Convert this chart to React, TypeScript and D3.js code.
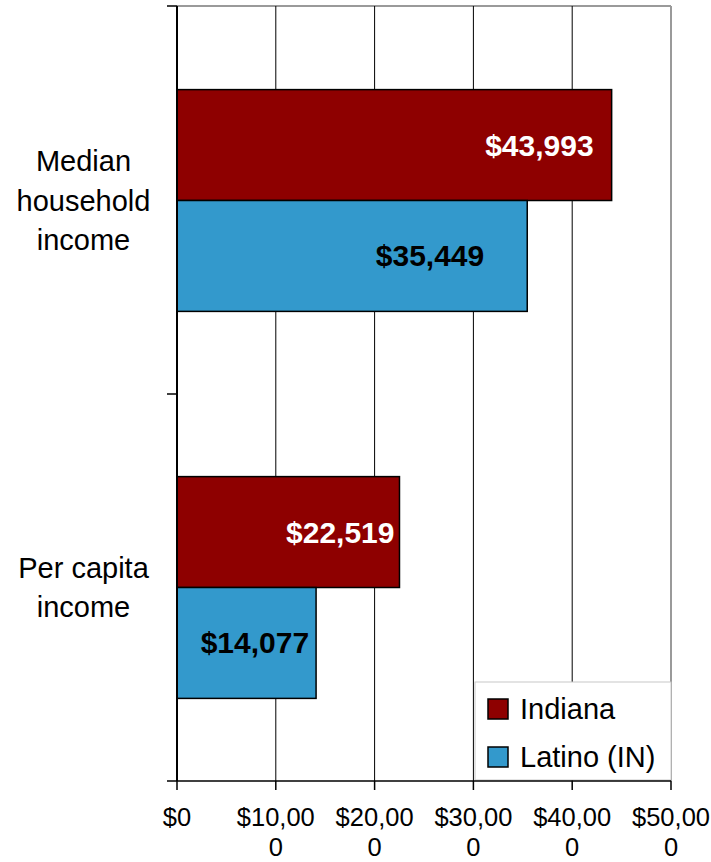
import React from "react";
import * as d3 from "d3";

const categories = ["Median household income", "Per capita income"];
const categoryLines = [["Median", "household", "income"], ["Per capita", "income"]];
const seriesNames = ["Indiana", "Latino (IN)"];
const indianaValues = [43993, 22519];
const latinoValues = [35449, 14077];
const xTicks = [0, 10000, 20000, 30000, 40000, 50000];
const xTickLines = [["$0"], ["$10,00", "0"], ["$20,00", "0"], ["$30,00", "0"], ["$40,00", "0"], ["$50,00", "0"]];

const colors = ["#8E0000", "#3399CC"];
const labelColors = ["#FFFFFF", "#000000"];
// inset (px) of each data label from its bar end: [category][series]
const labelInset = [[18, 43], [5, 7]];

const W = 711, H = 862;
const left = 177, right = 671, top = 6, bottom = 781;
const FONT = "'Liberation Sans', Arial, Helvetica, sans-serif";

export default function App() {
  const x = d3.scaleLinear().domain([0, 50000]).range([left, right]);
  const y = d3.scaleBand<string>().domain(categories).range([top + 1, bottom]).paddingInner(0).paddingOuter(0);
  const inner = d3.scaleBand<string>().domain(seriesNames).range([0, y.bandwidth()]).paddingOuter(0.745).paddingInner(0);
  const series = [indianaValues, latinoValues];
  const fmt = (v: number) => "$" + d3.format(",")(v);

  return (
    <svg width={W} height={H} style={{ position: "absolute", left: 0, top: 0, background: "#fff" }} fontFamily={FONT}>
      <rect x={0} y={0} width={W} height={H} fill="#fff" />
      {/* plot border top/right */}
      <line x1={left} x2={right} y1={top} y2={top} stroke="#9a9a9a" strokeWidth={2} />
      <line x1={right} x2={right} y1={top} y2={bottom} stroke="#9a9a9a" strokeWidth={2} />
      {/* gridlines */}
      {xTicks.slice(1, -1).map((t) => (
        <line key={t} x1={x(t)} x2={x(t)} y1={top} y2={bottom} stroke="#000" strokeWidth={1} />
      ))}
      {/* bars */}
      {categories.map((c, ci) =>
        seriesNames.map((s, si) => {
          const v = series[si][ci];
          const by = (y(c) as number) + (inner(s) as number);
          const bh = inner.bandwidth();
          return (
            <g key={c + s}>
              <rect x={x(0)} y={by} width={x(v) - x(0)} height={bh} fill={colors[si]} stroke="#000" strokeWidth={1.5} />
              <text x={x(v) - labelInset[ci][si]} y={by + bh / 2} dy="0.35em" textAnchor="end" fontWeight="bold" fontSize={30} fill={labelColors[si]}>
                {fmt(v)}
              </text>
            </g>
          );
        })
      )}
      {/* legend */}
      <rect x={475} y={682} width={196} height={98} fill="#fff" stroke="#c8c8c8" strokeWidth={1} />
      {seriesNames.map((s, i) => (
        <g key={s} transform={`translate(488, ${699 + i * 48})`}>
          <rect x={0} y={0} width={20} height={20} fill={colors[i]} stroke="#000" strokeWidth={1.5} />
          <text x={32} y={20} fontSize={29} fill="#000">{s}</text>
        </g>
      ))}
      {/* axes */}
      <line x1={left} x2={left} y1={top} y2={bottom} stroke="#000" strokeWidth={2} />
      <line x1={left} x2={right} y1={bottom} y2={bottom} stroke="#000" strokeWidth={1.5} />
      {[top, ...categories.map((c) => (y(c) as number) + y.bandwidth())].map((yy, i) => (
        <line key={i} x1={left - 10} x2={left} y1={yy} y2={yy} stroke="#000" strokeWidth={1.5} />
      ))}
      {xTicks.map((t) => (
        <line key={t} x1={x(t)} x2={x(t)} y1={bottom} y2={bottom + 9} stroke="#000" strokeWidth={1.5} />
      ))}
      {xTicks.map((t, i) => (
        <text key={t} x={x(t)} y={826} textAnchor="middle" fontSize={25.5} fill="#000">
          {xTickLines[i].map((ln, j) => (
            <tspan key={j} x={x(t)} dy={j === 0 ? 0 : 30}>{ln}</tspan>
          ))}
        </text>
      ))}
      {/* category labels */}
      {categories.map((c, ci) => {
        const lines = categoryLines[ci];
        const cy = (y(c) as number) + y.bandwidth() / 2;
        const lh = 39.5;
        const startBase = cy + 10 - ((lines.length - 1) * lh) / 2;
        return (
          <text key={c} x={83.5} textAnchor="middle" fontSize={29} fill="#000">
            {lines.map((ln, j) => (
              <tspan key={j} x={83.5} y={startBase + j * lh}>{ln}</tspan>
            ))}
          </text>
        );
      })}
    </svg>
  );
}
